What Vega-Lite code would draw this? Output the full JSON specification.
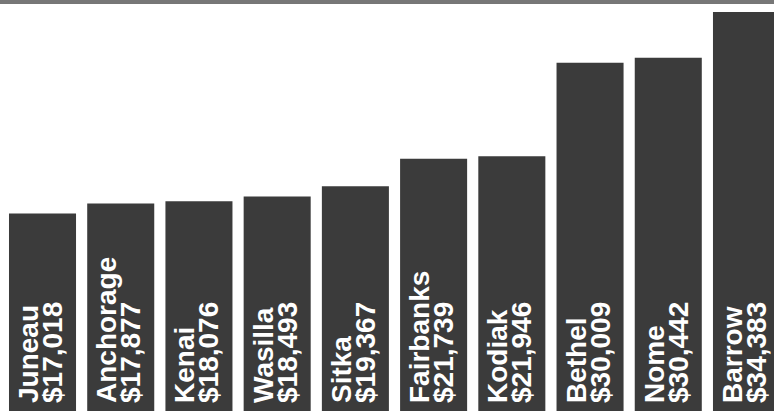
{
  "$schema": "https://vega.github.io/schema/vega-lite/v6.json",
  "autosize": "none",
  "padding": 0,
  "width": 789,
  "height": 411,
  "background": "#ffffff",
  "config": {"view": {"stroke": null}},
  "data": {
    "values": [
      {"city": "Juneau", "income": 17018},
      {"city": "Anchorage", "income": 17877},
      {"city": "Kenai", "income": 18076},
      {"city": "Wasilla", "income": 18493},
      {"city": "Sitka", "income": 19367},
      {"city": "Fairbanks", "income": 21739},
      {"city": "Kodiak", "income": 21946},
      {"city": "Bethel", "income": 30009},
      {"city": "Nome", "income": 30442},
      {"city": "Barrow", "income": 34383}
    ]
  },
  "layer": [
    {
      "mark": {"type": "bar", "color": "#3b3b3b"},
      "encoding": {
        "x": {
          "field": "city",
          "type": "nominal",
          "sort": null,
          "axis": null,
          "scale": {"paddingInner": 0.143, "paddingOuter": 0.115}
        },
        "y": {
          "field": "income",
          "type": "quantitative",
          "axis": null,
          "scale": {"domain": [0, 35417], "nice": false}
        }
      }
    },
    {
      "mark": {
        "type": "text",
        "angle": 270,
        "align": "left",
        "baseline": "top",
        "font": "Liberation Sans",
        "fontWeight": "bold",
        "fontSize": 28,
        "color": "#ffffff",
        "dx": 8,
        "dy": 7
      },
      "encoding": {
        "x": {"field": "city", "type": "nominal", "sort": null, "bandPosition": 0},
        "y": {"datum": 0, "type": "quantitative"},
        "text": {"field": "city"}
      }
    },
    {
      "mark": {
        "type": "text",
        "angle": 270,
        "align": "left",
        "baseline": "top",
        "font": "Liberation Sans",
        "fontWeight": "bold",
        "fontSize": 28,
        "color": "#ffffff",
        "dx": 8,
        "dy": 31
      },
      "encoding": {
        "x": {"field": "city", "type": "nominal", "sort": null, "bandPosition": 0},
        "y": {"datum": 0, "type": "quantitative"},
        "text": {"field": "income", "format": "$,.0f"}
      }
    },
    {
      "mark": {"type": "rule", "color": "#777777", "strokeWidth": 7},
      "encoding": {
        "y": {"datum": 35417, "type": "quantitative"}
      }
    }
  ]
}
